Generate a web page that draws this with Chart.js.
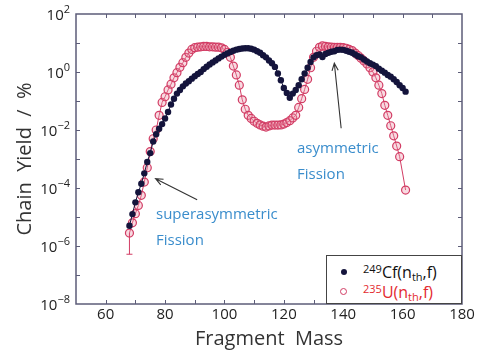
<!DOCTYPE html>
<html>
<head>
<meta charset="utf-8">
<script src="https://cdn.jsdelivr.net/npm/chart.js@4.4.0/dist/chart.umd.min.js"></script>
<style>
  html, body { margin: 0; padding: 0; background: #fff; }
  #wrap { position: relative; width: 477px; height: 354px; font-family: "Open Sans", sans-serif; }
  #chart { position: absolute; left: 0; top: 0; }
  .note { position: absolute; color: #3a8dcc; font-size: 15px; line-height: 26px; white-space: nowrap; }
  #legend { position: absolute; left: 326px; top: 255px; width: 134px; height: 47px; border: 1.5px solid #444; background: #fff; }
  .row { position: absolute; left: 0; height: 20px; line-height: 20px; font-size: 16px; color: #111; white-space: nowrap; }
  .row sup { font-size: 11px; vertical-align: 5px; line-height: 0; }
  .row sub { font-size: 11px; vertical-align: -3px; line-height: 0; }
  .row .txt { position: absolute; left: 36px; top: 0; }
  .red .txt { color: #e32a2f; }
  .dot { position: absolute; left: 14px; top: 7px; width: 6px; height: 6px; border-radius: 50%; background: #14143c; }
  .ring { position: absolute; left: 13px; top: 6px; width: 5px; height: 5px; border-radius: 50%; border: 1.2px solid #d23c64; }
</style>
</head>
<body>
<div id="wrap">
  <canvas id="chart" width="477" height="354"></canvas>
  <div class="note" style="left:297px; top:134px;">asymmetric<br>Fission</div>
  <div class="note" style="left:156px; top:200px;">superasymmetric<br>Fission</div>
  <div id="legend">
    <div class="row" style="top:6px;"><span class="dot"></span><span class="txt"><sup>249</sup>Cf(n<sub>th</sub>,f)</span></div>
    <div class="row red" style="top:26px;"><span class="ring"></span><span class="txt"><sup>235</sup>U(n<sub>th</sub>,f)</span></div>
  </div>
</div>
<script>
// fragment mass numbers (A)
const massNumbers = [68, 69, 70, 71, 72, 73, 74, 75, 76, 77, 78, 79, 80, 81, 82, 83, 84, 85, 86, 87,
  88, 89, 90, 91, 92, 93, 94, 95, 96, 97, 98, 99, 100, 101, 102, 103, 104, 105, 106, 107,
  108, 109, 110, 111, 112, 113, 114, 115, 116, 117, 118, 119, 120, 121, 122, 123, 124, 125, 126, 127,
  128, 129, 130, 131, 132, 133, 134, 135, 136, 137, 138, 139, 140, 141, 142, 143, 144, 145, 146, 147,
  148, 149, 150, 151, 152, 153, 154, 155, 156, 157, 158, 159, 160, 161];

// chain yields in %, Cf-249 (n_th,f)
const cfYield = [5.0e-6, 1.26e-5, 3.2e-5, 7.1e-5, 1.4e-4, 3.2e-4, 7.9e-4, 1.6e-3, 4.0e-3, 7.1e-3,
  0.011, 0.016, 0.025, 0.042, 0.076, 0.12, 0.18, 0.24, 0.32, 0.40,
  0.48, 0.59, 0.71, 0.85, 1.0, 1.26, 1.51, 1.82, 2.14, 2.5,
  2.95, 3.4, 3.9, 4.4, 4.9, 5.4, 5.9, 6.2, 6.5, 6.6,
  6.6, 6.3, 5.9, 5.2, 4.6, 3.8, 3.2, 2.5, 2.0, 1.5,
  0.89, 0.52, 0.28, 0.19, 0.13, 0.18, 0.24, 0.35, 0.56, 0.89,
  1.4, 2.2, 3.2, 3.8, 4.0, 3.3, 4.2, 4.6, 5.0, 5.2,
  5.8, 5.9, 5.8, 5.4, 5.0, 4.6, 4.0, 3.5, 3.2, 2.7,
  2.3, 2.0, 1.8, 1.6, 1.3, 1.1, 0.95, 0.79, 0.69, 0.56,
  0.45, 0.35, 0.28, 0.21];

// chain yields in %, U-235 (n_th,f); no point at A = 160
const u235Yield = [2.8e-6, 6.3e-6, 1.3e-5, 2.5e-5, 5.6e-5, 1.6e-4, 5.0e-4, 1.8e-3, 5.0e-3, 0.010,
  0.032, 0.089, 0.14, 0.24, 0.38, 0.63, 0.95, 1.45, 2.1, 3.2,
  4.5, 6.0, 6.9, 7.2, 7.4, 7.6, 7.6, 7.4, 7.4, 7.2,
  7.2, 6.8, 6.0, 4.8, 3.2, 1.6, 0.79, 0.35, 0.11, 0.052,
  0.032, 0.025, 0.020, 0.017, 0.015, 0.0135, 0.0126, 0.0138, 0.0148, 0.0148,
  0.0148, 0.015, 0.016, 0.018, 0.021, 0.026, 0.032, 0.06, 0.12, 0.25,
  0.56, 1.4, 3.2, 5.2, 7.1, 7.9, 7.6, 7.4, 7.2, 7.1,
  7.1, 7.1, 6.9, 6.6, 6.0, 5.5, 4.5, 3.7, 3.0, 2.4,
  1.9, 1.4, 1.0, 0.63, 0.35, 0.18, 0.071, 0.032, 0.014, 0.0063,
  0.0028, 0.0012, null, 8.5e-5];

// error bar on the lightest U-235 point
const u235ErrMass = [68];
const u235ErrLow = [5.2e-7];
const u235ErrHigh = [2.8e-6];

const xTickValues = [60, 80, 100, 120, 140, 160, 180];
const xMinorTicks = [60, 70, 80, 90, 100, 110, 120, 130, 140, 150, 160, 170];
const yTickExponents = [2, 0, -2, -4, -6, -8];
const yMinorExponents = [1, 0, -1, -2, -3, -4, -5, -6, -7];

// arrows: [mass, yield] tail -> tip
const arrows = [
  { from: [90.8, 3.9e-5], to: [76.8, 2.1e-4] },
  { from: [139.3, 0.0115], to: [137.0, 2.0] }
];

const frameColor = '#5c5c78';

const framePlugin = {
  id: 'frame',
  afterDatasetsDraw(chart) {
    const { ctx, chartArea: a, scales: { x, y } } = chart;
    ctx.save();
    // error bars
    ctx.strokeStyle = '#d23c64';
    ctx.lineWidth = 1;
    u235ErrMass.forEach((m, i) => {
      const px = x.getPixelForValue(m);
      const lo = y.getPixelForValue(u235ErrLow[i]), hi = y.getPixelForValue(u235ErrHigh[i]);
      ctx.beginPath();
      ctx.moveTo(px, hi); ctx.lineTo(px, lo);
      ctx.moveTo(px - 3, lo); ctx.lineTo(px + 3, lo);
      ctx.stroke();
    });
    // arrows
    ctx.strokeStyle = '#333';
    ctx.lineWidth = 1.1;
    arrows.forEach(ar => {
      const x1 = x.getPixelForValue(ar.from[0]), y1 = y.getPixelForValue(ar.from[1]);
      const x2 = x.getPixelForValue(ar.to[0]), y2 = y.getPixelForValue(ar.to[1]);
      const ang = Math.atan2(y2 - y1, x2 - x1), h = 8;
      ctx.beginPath();
      ctx.moveTo(x1, y1); ctx.lineTo(x2, y2);
      ctx.moveTo(x2 - h * Math.cos(ang - 0.4), y2 - h * Math.sin(ang - 0.4));
      ctx.lineTo(x2, y2);
      ctx.lineTo(x2 - h * Math.cos(ang + 0.4), y2 - h * Math.sin(ang + 0.4));
      ctx.stroke();
    });
    // box + inward ticks
    ctx.strokeStyle = frameColor;
    ctx.lineWidth = 1.5;
    ctx.strokeRect(a.left, a.top, a.right - a.left, a.bottom - a.top);
    ctx.lineWidth = 1;
    ctx.beginPath();
    xMinorTicks.forEach(v => {
      const px = Math.round(x.getPixelForValue(v)) + 0.5;
      ctx.moveTo(px, a.bottom); ctx.lineTo(px, a.bottom - 4);
      ctx.moveTo(px, a.top); ctx.lineTo(px, a.top + 4);
    });
    yMinorExponents.forEach(e => {
      const py = Math.round(y.getPixelForValue(Math.pow(10, e))) + 0.5;
      ctx.moveTo(a.left, py); ctx.lineTo(a.left + 4, py);
      ctx.moveTo(a.right, py); ctx.lineTo(a.right - 4, py);
    });
    ctx.stroke();
    // y tick labels 10^n
    ctx.fillStyle = '#222';
    ctx.textBaseline = 'alphabetic';
    yTickExponents.forEach(e => {
      const py = y.getPixelForValue(Math.pow(10, e));
      const exp = e < 0 ? '\u2212' + (-e) : String(e);
      ctx.font = '11px "Open Sans"';
      const ew = ctx.measureText(exp).width;
      const right = a.left - 6;
      ctx.textAlign = 'left';
      ctx.fillText(exp, right - ew, py - 1);
      ctx.font = '15px "Open Sans"';
      ctx.textAlign = 'right';
      ctx.fillText('10', right - ew, py + 6);
    });
    ctx.restore();
  }
};

const toPoints = ys => massNumbers.map((m, i) => ({ x: m, y: ys[i] }));

new Chart(document.getElementById('chart').getContext('2d'), {
  type: 'line',
  data: {
    datasets: [
      {
        label: '249Cf(nth,f)', data: toPoints(cfYield), order: 0,
        borderColor: '#14143c', backgroundColor: '#14143c', borderWidth: 1,
        pointRadius: 3.2, pointBorderWidth: 0, pointBackgroundColor: '#14143c'
      },
      {
        label: '235U(nth,f)', data: toPoints(u235Yield), order: 1, spanGaps: true,
        borderColor: '#d23c64', backgroundColor: 'rgba(235,150,170,0.35)', borderWidth: 1,
        pointRadius: 4, pointBorderWidth: 1.2, pointBorderColor: '#d23c64', pointBackgroundColor: 'rgba(235,150,170,0.35)'
      }
    ]
  },
  options: {
    responsive: false,
    animation: false,
    layout: { padding: { top: 14, right: 15, left: 0, bottom: 0 } },
    plugins: { legend: { display: false }, tooltip: { enabled: false } },
    scales: {
      x: {
        type: 'linear', min: 50, max: 180,
        afterBuildTicks: s => { s.ticks = xTickValues.map(v => ({ value: v })); },
        afterFit: s => { s.height = 50; },
        grid: { display: false, drawTicks: false },
        border: { display: false },
        ticks: { color: '#222', font: { family: 'Open Sans', size: 15 }, padding: 2, maxRotation: 0 },
        title: { display: true, text: 'Fragment  Mass', color: '#333', font: { family: 'Open Sans', size: 20 }, padding: { top: 0, bottom: 3 } }
      },
      y: {
        type: 'logarithmic', min: 1e-8, max: 100,
        afterBuildTicks: s => { s.ticks = yTickExponents.map(e => ({ value: Math.pow(10, e) })); },
        afterFit: s => { s.width = 76; },
        grid: { display: false, drawTicks: false },
        border: { display: false },
        ticks: { callback: () => '' },
        title: { display: true, text: 'Chain  Yield  /  %', color: '#333', font: { family: 'Open Sans', size: 20 }, padding: { top: 13, bottom: 0 } }
      }
    }
  },
  plugins: [framePlugin]
});
</script>
</body>
</html>
